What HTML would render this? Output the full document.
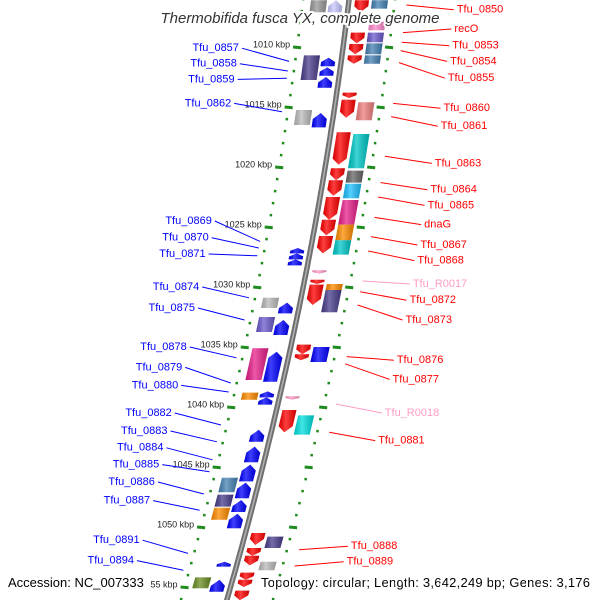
<!DOCTYPE html>
<html><head><meta charset="utf-8"><style>
html,body{margin:0;padding:0;background:#fff;}
svg{display:block;font-family:"Liberation Sans",sans-serif;}
.halo{paint-order:stroke;stroke:#fff;stroke-width:4px;stroke-linejoin:round;}
</style></head><body>
<svg id="chart" width="600" height="600" viewBox="0 0 600 600" xmlns="http://www.w3.org/2000/svg">
<defs>
<linearGradient id="shade" x1="0" x2="1" y1="0" y2="0"><stop offset="0" stop-color="#000" stop-opacity="0.15"/><stop offset="0.4" stop-color="#fff" stop-opacity="0.25"/><stop offset="1" stop-color="#000" stop-opacity="0.2"/></linearGradient>
</defs>
<g id="ticks"></g>
<path id="backbone" fill="none" stroke="#707070" stroke-width="5.5"></path>
<path id="backbone2" fill="none" stroke="#b0b0b0" stroke-width="1.5"></path>
<g id="genes"></g>
<g id="labels"></g>
<text class="halo" x="300" y="23" text-anchor="middle" font-size="15" font-style="italic" fill="#333">Thermobifida fusca YX, complete genome</text>
<text class="halo" x="8" y="587" font-size="13" fill="#000">Accession: NC_007333</text>
<text class="halo" x="261" y="587" font-size="13" fill="#000" textLength="329">Topology: circular; Length: 3,642,249 bp; Genes: 3,176</text>
</svg>
<script>
// ---- data (positions in kbp) ----
const tickKbp = [1010,1015,1020,1025,1030,1035,1040,1045,1050,1055];
const tickLabels = ["1010 kbp","1015 kbp","1020 kbp","1025 kbp","1030 kbp","1035 kbp","1040 kbp","1045 kbp","1050 kbp","55 kbp"];
const leftArrowStart = [1006.1,1010.9,1011.7,1012.5,1015.5,1026.75,1027.2,1027.7,1031.3,1032.75,1035.4,1038.7,1039.2,1041.9,1043.3,1044.8,1046.3,1047.75,1048.9,1052.9,1054.4];
const leftArrowEnd   = [1007.1,1011.6,1012.4,1013.4,1016.7,1027.2,1027.7,1028.2,1032.2,1034.0,1037.9,1039.2,1039.8,1042.9,1044.6,1046.2,1047.6,1048.75,1050.1,1053.3,1055.4];
const leftArrowColor = ["#c8c8ff","#0000ff","#0000ff","#0000ff","#0000ff","#0000ff","#0000ff","#0000ff","#0000ff","#0000ff","#0000ff","#0000ff","#0000ff","#0000ff","#0000ff","#0000ff","#0000ff","#0000ff","#0000ff","#0000ff","#0000ff"];
const leftBoxStart = [1006.1,1010.7,1015.25,1030.9,1032.5,1035.1,1038.8,1045.9,1047.3,1048.4,1054.2];
const leftBoxEnd   = [1007.1,1012.75,1016.5,1031.75,1033.75,1037.75,1039.4,1047.1,1048.3,1049.4,1055.1];
const leftBoxColor = ["#999","#4b3f8c","#bbb","#bbb","#6a5acd","#e8208c","#ff8c00","#4682b4","#483d8b","#ff8c00","#6b8e23"];
const rightArrowStart = [1006.1,1008.8,1009.75,1010.7,1013.8,1014.4,1017.1,1020.1,1021.1,1022.5,1024.4,1025.75,1028.6,1029.4,1029.8,1034.8,1035.6,1039.1,1040.25,1050.5,1051.75,1052.4,1053.8,1054.4,1055.3];
const rightArrowEnd   = [1007.1,1009.7,1010.6,1011.4,1014.25,1015.9,1019.8,1021.1,1022.4,1024.4,1025.7,1027.2,1028.9,1029.75,1031.5,1035.6,1036.1,1039.4,1042.1,1051.5,1052.4,1053.2,1054.4,1055.0,1056.1];
const rightArrowColor = ["#ff0000","#ff0000","#ff0000","#ff0000","#ff0000","#ff0000","#ff0000","#ff0000","#ff0000","#ff0000","#ff0000","#ff0000","#ff9cc8","#ff0000","#ff0000","#ff0000","#ff0000","#ff9cc8","#ff0000","#ff0000","#ff0000","#ff0000","#ff0000","#ff0000","#ff0000"];
const rightBoxStart = [1006.1,1007.9,1008.8,1009.7,1010.7,1014.6,1017.25,1020.3,1021.4,1022.75,1024.8,1026.1,1029.75,1030.25,1035.0,1040.7,1050.8,1052.9];
const rightBoxEnd   = [1006.8,1008.6,1009.6,1010.6,1011.4,1016.1,1020.1,1021.3,1022.6,1024.8,1026.1,1027.3,1030.25,1032.1,1036.25,1042.3,1051.75,1053.6];
const rightBoxColor = ["#4682b4","#ff88cc","#6a5acd","#4682b4","#4682b4","#f08080","#00c8c8","#666","#1ec0ff","#e8208c","#ff8c00","#00c8c8","#ff8c00","#483d8b","#0000ff","#00e0e0","#483d8b","#bbb"];
const leftLabelNames = ["Tfu_0857","Tfu_0858","Tfu_0859","Tfu_0862","Tfu_0869","Tfu_0870","Tfu_0871","Tfu_0874","Tfu_0875","Tfu_0878","Tfu_0879","Tfu_0880","Tfu_0882","Tfu_0883","Tfu_0884","Tfu_0885","Tfu_0886","Tfu_0887","Tfu_0891","Tfu_0894"];
const leftLabelGeneK = [1011.2,1012,1012.6,1015.4,1026.2,1026.75,1027.4,1030.9,1032.75,1035.9,1038,1038.75,1041.5,1042.9,1044.4,1045.4,1047.25,1048.6,1052.2,1053.6];
const leftLabelTextK = [1010.1,1011.4,1012.7,1014.7,1024.5,1025.9,1027.25,1030,1031.75,1035,1036.7,1038.2,1040.5,1042,1043.4,1044.8,1046.25,1047.8,1051.1,1052.8];
const rightLabelNames = ["Tfu_0850","recO","Tfu_0853","Tfu_0854","Tfu_0855","Tfu_0860","Tfu_0861","Tfu_0863","Tfu_0864","Tfu_0865","dnaG","Tfu_0867","Tfu_0868","Tfu_R0017","Tfu_0872","Tfu_0873","Tfu_0876","Tfu_0877","Tfu_R0018","Tfu_0881","Tfu_0888","Tfu_0889"];
const rightLabelColor = ["#f00","#f00","#f00","#f00","#f00","#f00","#f00","#f00","#f00","#f00","#f00","#f00","#f00","#ff9cc8","#f00","#f00","#f00","#f00","#ff9cc8","#f00","#f00","#f00"];
const rightLabelGeneK = [1006.5,1008.8,1009.6,1010.3,1011.3,1014.7,1015.8,1019.1,1021.3,1022.5,1024.2,1025.8,1027,1029.5,1030.4,1031.5,1035.8,1036.4,1039.75,1042.1,1051.9,1053.25];
const rightLabelTextK = [1006.9,1008.5,1009.9,1011.2,1012.6,1015.1,1016.6,1019.7,1021.9,1023.2,1024.8,1026.5,1027.8,1029.75,1031.1,1032.75,1036.1,1037.7,1040.5,1042.8,1051.6,1052.9];

// ---- axis functions ----
const NS = "http://www.w3.org/2000/svg";
function yOf(k){ return 47 + (k - 1010) * 12; }
function bx(y){ return 349 - 0.119 * y - 0.000141 * y * y; }
function mk(tag, attrs, parent){ const e = document.createElementNS(NS, tag); for (const a in attrs) e.setAttribute(a, attrs[a]); parent.appendChild(e); return e; }

let d = "";
for (let y = -5; y <= 605; y += 5) d += (d ? "L" : "M") + bx(y).toFixed(1) + " " + y + " ";
document.getElementById("backbone").setAttribute("d", d);
document.getElementById("backbone2").setAttribute("d", d);

const tg = document.getElementById("ticks");
for (let k = 1004; k <= 1057; k++) {
  const y = yOf(k);
  [-46, 46].forEach(off => {
    const x = bx(y) + off;
    const major = k % 5 === 0;
    const len = major ? 8 : 2.5;
    const t = mk("line", {x1: x - len/2, y1: y, x2: x + len/2, y2: y + len*0.1, stroke: "#1e8c1e", "stroke-width": major ? 3 : 2.5}, tg);
    
    
  });
}
tickKbp.forEach((k, i) => {
  const y = yOf(k);
  const t = mk("text", {x: bx(y) - 46 - 7, y: y - 2, "text-anchor": "end", "font-size": 9, fill: "#222", "dominant-baseline": "middle"}, tg);
  t.textContent = tickLabels[i];
  
  
});

const gg = document.getElementById("genes");
function shapePts(k1, k2, off, w, dir, head) {
  const y1 = yOf(k1), y2 = yOf(k2);
  const L = y2 - y1, h = head ? Math.min(6, L * 0.5) : 0;
  const pts = [];
  const P = (y, o) => pts.push((bx(y) + off + o).toFixed(1) + "," + y.toFixed(1));
  if (!head) { P(y1, -w/2); P(y1, w/2); P(y2, w/2); P(y2, -w/2); }
  else if (dir < 0) { P(y1, 0); P(y1 + h, w/2); P(y2, w/2); P(y2, -w/2); P(y1 + h, -w/2); }
  else { P(y1, -w/2); P(y1, w/2); P(y2 - h, w/2); P(y2, 0); P(y2 - h, -w/2); }
  return pts.join(" ");
}
function drawSet(starts, ends, colors, off, w, dir, head, name) {
  starts.forEach((s, i) => {
    const pts = shapePts(s, ends[i], off, w, dir, head);
    const p = mk("polygon", {points: pts, fill: colors[i]}, gg);
    
    
    mk("polygon", {points: pts, fill: "url(#shade)"}, gg);
  });
}
drawSet(leftBoxStart, leftBoxEnd, leftBoxColor, -30, 16, 0, false, "forward-gene-box");
drawSet(leftArrowStart, leftArrowEnd, leftArrowColor, -13, 14, -1, true, "forward-gene-arrow");
drawSet(rightBoxStart, rightBoxEnd, rightBoxColor, 31, 16, 0, false, "reverse-gene-box");
drawSet(rightArrowStart, rightArrowEnd, rightArrowColor, 13, 14, 1, true, "reverse-gene-arrow");

const lg = document.getElementById("labels");
leftLabelNames.forEach((n, i) => {
  const ty = yOf(leftLabelTextK[i]), gy = yOf(leftLabelGeneK[i]);
  const tx = bx(ty) - 46 - 58;
  const l = mk("line", {x1: tx + 3, y1: ty, x2: bx(gy) - 46 - 6, y2: gy, stroke: "#0000ff", "stroke-width": 1}, lg);
  
  
  const t = mk("text", {x: tx, y: ty, "text-anchor": "end", "font-size": 11, fill: "#0000ff", "dominant-baseline": "middle"}, lg);
  t.textContent = n;
  
  
});
rightLabelNames.forEach((n, i) => {
  const ty = yOf(rightLabelTextK[i]), gy = yOf(rightLabelGeneK[i]);
  const tx = bx(ty) + 46 + 63;
  const l = mk("line", {x1: bx(gy) + 46 + 12, y1: gy, x2: tx - 3, y2: ty, stroke: rightLabelColor[i], "stroke-width": 1}, lg);
  
  
  const t = mk("text", {x: tx, y: ty, "font-size": 11, fill: rightLabelColor[i], "dominant-baseline": "middle"}, lg);
  t.textContent = n;
  
  
});
</script>
</body></html>
